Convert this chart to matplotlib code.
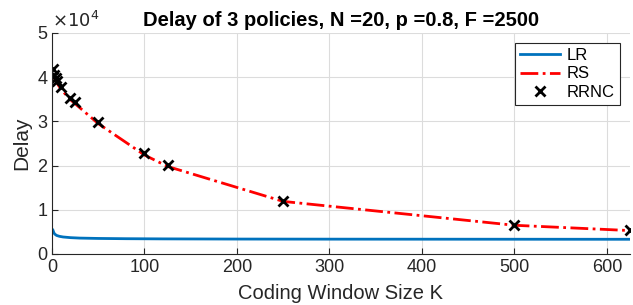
import numpy as np
import matplotlib.pyplot as plt

plt.rcParams['font.family'] = ['Liberation Sans', 'DejaVu Sans']

# RRNC / RS evaluated at divisors of F
K_pts = [1, 2, 4, 5, 10, 20, 25, 50, 100, 125, 250, 500, 625]
rrnc = [41800, 40600, 39800, 39200, 37800, 35400, 34400, 29900, 22800, 20100, 12000, 6600, 5400]
rs = [40800, 40000, 39200, 38800, 37200, 34900, 34000, 29500, 22400, 19800, 11900, 6500, 5300]

# LR curve
K_lr = [1, 2, 3, 5, 8, 12, 20, 30, 50, 80, 120, 200, 300, 400, 500, 625]
lr = [5400, 4800, 4500, 4200, 4000, 3850, 3700, 3600, 3520, 3460, 3420, 3380, 3360, 3350, 3340, 3330]

fig = plt.figure(figsize=(6.33, 3.05), dpi=100)
ax = fig.add_axes([52 / 633, 1 - 254 / 305, 578 / 633, 221 / 305])

ax.plot(K_lr, lr, '-', color='#0072BD', linewidth=2, label='LR')
ax.plot(K_pts, rs, '-.', color='red', linewidth=2, label='RS')
ax.plot(K_pts, rrnc, 'x', color='black', markersize=7, markeredgewidth=2, label='RRNC')

ax.set_xlim(0, 625)
ax.set_ylim(0, 50000)
ax.set_xticks([0, 100, 200, 300, 400, 500, 600])
ax.set_yticks([0, 10000, 20000, 30000, 40000, 50000])
ax.set_yticklabels(['0', '1', '2', '3', '4', '5'])
ax.text(0, 1.01, r'$\times10^4$', transform=ax.transAxes, fontsize=13, color='#262626',
        ha='left', va='bottom')
ax.grid(True, color='#dcdcdc', linewidth=0.8)
ax.set_axisbelow(True)
ax.tick_params(direction='in', labelsize=13, colors='#262626', length=4)
for sp in ['top', 'right']:
    ax.spines[sp].set_visible(False)
for sp in ['left', 'bottom']:
    ax.spines[sp].set_color('#262626')

ax.set_xlabel('Coding Window Size K', fontsize=14.5, color='#262626', labelpad=6)
ax.set_ylabel('Delay', fontsize=15, color='#262626', labelpad=4)
ax.set_title('Delay of 3 policies, N =20, p =0.8, F =2500', fontsize=14.5, fontweight='bold', pad=5)

leg = ax.legend(loc='upper right', fontsize=12, fancybox=False, framealpha=1,
                edgecolor='#262626', handlelength=2.4, borderpad=0.3, labelspacing=0.2,
                handletextpad=0.4, borderaxespad=0.6)
leg.get_frame().set_linewidth(0.8)

plt.savefig('out.png', dpi=100)
